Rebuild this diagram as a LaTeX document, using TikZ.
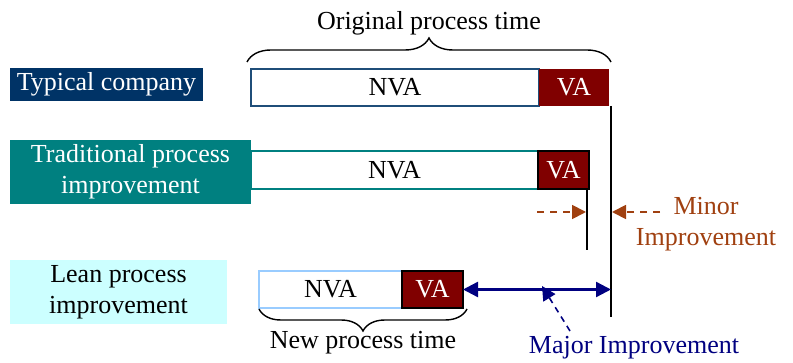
\documentclass[tikz,border=0pt]{standalone}
\usepackage{fontspec}
\setmainfont{Liberation Serif}
\usetikzlibrary{arrows.meta,decorations.pathreplacing}
\definecolor{navybox}{RGB}{0,51,102}
\definecolor{tealbox}{RGB}{0,128,128}
\definecolor{cyanbox}{RGB}{204,255,255}
\definecolor{vared}{RGB}{128,0,0}
\definecolor{nvaedge}{RGB}{31,78,121}
\definecolor{leanedge}{RGB}{153,204,255}
\definecolor{minorc}{RGB}{160,64,16}
\definecolor{majorc}{RGB}{0,0,128}
\begin{document}
\begin{tikzpicture}[x=1pt,y=-1pt,
  every node/.style={font=\fontsize{26}{31}\selectfont, inner sep=0pt, outer sep=0pt},
  nva/.style={draw, line width=1.8pt, fill=white},
  va/.style={fill=vared, text=white},
  vline/.style={line width=1.8pt},
  tri/.style={-{Triangle[length=14pt,width=14pt]}},
]
\useasboundingbox (0,0) rectangle (793,363);
% left labels
\node[fill=navybox, text=white, minimum width=193pt, minimum height=33pt] (lab1) at (106.5,84.5) {Typical company};
\node[fill=tealbox, text=white, align=center, minimum width=241pt, minimum height=64pt] (lab2) at (130.5,172) {Traditional process\\improvement};
\node[fill=cyanbox, text=black, align=center, minimum width=217pt, minimum height=64pt] (lab3) at (118.5,292) {Lean process\\improvement};
% row 1
\node[nva, draw=nvaedge, minimum width=288pt, minimum height=37pt] (nva1) at (395,87.5) {NVA};
\node[va, minimum width=70pt, minimum height=37pt] (va1) at (574,87.5) {VA};
% row 2
\node[nva, draw=tealbox, minimum width=287pt, minimum height=38pt] (nva2) at (394.5,170) {NVA};
\node[va, draw=black, line width=1.8pt, minimum width=51pt, minimum height=38pt] (va2) at (563.5,170) {VA};
% row 3
\node[nva, draw=leanedge, line width=1.5pt, minimum width=143pt, minimum height=37pt] (nva3) at (330.5,289.5) {NVA};
\node[va, draw=black, line width=1.8pt, minimum width=61pt, minimum height=37pt] (va3) at (432.5,289.5) {VA};
% vertical lines
\coordinate (l1top) at (611,106);
\coordinate (l1bot) at (611,317);
\draw[vline] (l1top) -- (l1bot);
\coordinate (l2top) at (587,189);
\coordinate (l2bot) at (587,250);
\draw[vline] (l2top) -- (l2bot);
% braces
\coordinate (b1a) at (247,62);
\coordinate (b1b) at (611,62);
\draw[line width=1.4pt, decorate, decoration={brace, amplitude=24pt, aspect=0.5}] (b1a) -- (b1b);
\node (orig) at (429,23) {Original process time};
\coordinate (b3a) at (259,309);
\coordinate (b3b) at (467,309);
\draw[line width=1.4pt, decorate, decoration={brace, mirror, amplitude=22pt}] (b3a) -- (b3b);
\node (newt) at (363,343) {New process time};
% minor improvement
\coordinate (m1s) at (537,212);
\coordinate (m1e) at (586,212);
\coordinate (m2s) at (660,212);
\coordinate (m2e) at (612,212);
\draw[minorc, line width=1.8pt, dash pattern=on 7pt off 6pt, tri] (m1s) -- (m1e);
\draw[minorc, line width=1.8pt, dash pattern=on 7pt off 6pt, tri] (m2s) -- (m2e);
\node[text=minorc, align=center] (minor) at (706,224) {Minor\\Improvement};
% major improvement
\draw[majorc, line width=2.4pt, {Triangle[length=15pt,width=15pt]}-{Triangle[length=15pt,width=15pt]}] (va3.east) -- (l1bot |- va3.east);
\coordinate (majs) at (570,331);
\coordinate (maje) at (542,286);
\draw[majorc, line width=1.6pt, dash pattern=on 6pt off 5pt, tri] (majs) -- (maje);
\node[text=majorc] (major) at (634,348) {Major Improvement};
\end{tikzpicture}
\end{document}
